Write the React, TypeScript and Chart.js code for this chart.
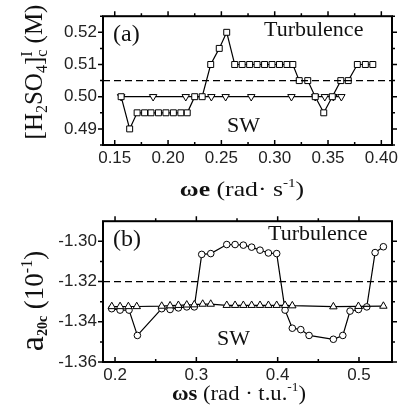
import React, { useEffect, useRef } from "react";
import { Chart, registerables } from "chart.js";

Chart.register(...registerables);

// ---------- Panel (a) data ----------
const aSquareX = [0.156, 0.164, 0.171, 0.178, 0.184, 0.191, 0.198, 0.205, 0.212, 0.218, 0.225, 0.232, 0.240, 0.248, 0.255, 0.2625, 0.2695, 0.2765, 0.2835, 0.2905, 0.2975, 0.3045, 0.3115, 0.317, 0.323, 0.331, 0.338, 0.346, 0.354, 0.362, 0.369, 0.3775, 0.385, 0.392];
const aSquareY = [0.50, 0.49, 0.495, 0.495, 0.495, 0.495, 0.495, 0.495, 0.495, 0.495, 0.50, 0.50, 0.51, 0.515, 0.52, 0.51, 0.51, 0.51, 0.51, 0.51, 0.51, 0.51, 0.51, 0.51, 0.505, 0.505, 0.50, 0.495, 0.50, 0.505, 0.505, 0.51, 0.51, 0.51];
const aTriX = [0.156, 0.186, 0.2166, 0.2406, 0.254, 0.278, 0.3157, 0.338, 0.347, 0.355, 0.3625];
const aTriY = [0.50, 0.50, 0.50, 0.50, 0.50, 0.50, 0.50, 0.50, 0.50, 0.50, 0.50];
const aThreshold = 0.505;
const aXRange = [0.139, 0.41];
const aYRange = [0.485, 0.525];
const aXTicks = [0.15, 0.175, 0.20, 0.225, 0.25, 0.275, 0.30, 0.325, 0.35, 0.375, 0.40];
const aXLabels = [0.15, 0.20, 0.25, 0.30, 0.35, 0.40];
const aYTicks = [0.485, 0.49, 0.495, 0.50, 0.505, 0.51, 0.515, 0.52, 0.525];
const aYLabels = [0.49, 0.50, 0.51, 0.52];

// ---------- Panel (b) data ----------
const bCircX = [0.1959, 0.2062, 0.2172, 0.2275, 0.2574, 0.2677, 0.2779, 0.2882, 0.2975, 0.3066, 0.3177, 0.3374, 0.3476, 0.3578, 0.368, 0.3783, 0.3886, 0.3988, 0.4091, 0.418, 0.4284, 0.4386, 0.4685, 0.4801, 0.489, 0.4993, 0.5096, 0.5198, 0.53];
const bCircY = [-1.3335, -1.3342, -1.3342, -1.3468, -1.3335, -1.3339, -1.3331, -1.3326, -1.3326, -1.3065, -1.3061, -1.3016, -1.3016, -1.3019, -1.3029, -1.3044, -1.3058, -1.3061, -1.3342, -1.3432, -1.3439, -1.3468, -1.3487, -1.3468, -1.3347, -1.3339, -1.3326, -1.3056, -1.3027];
const bTriX = [0.196, 0.2062, 0.2164, 0.2267, 0.2574, 0.2677, 0.2779, 0.2882, 0.2975, 0.3078, 0.3177, 0.3374, 0.3476, 0.3578, 0.368, 0.3783, 0.3886, 0.3988, 0.4091, 0.418, 0.4685, 0.4993, 0.53];
const bTriY = [-1.3324, -1.3324, -1.3324, -1.3324, -1.3322, -1.3320, -1.3318, -1.3316, -1.3315, -1.3312, -1.3312, -1.3318, -1.3318, -1.3318, -1.3318, -1.3318, -1.3318, -1.3318, -1.3318, -1.3320, -1.3325, -1.3323, -1.3322];
const bThreshold = -1.32;
const bXRange = [0.1852, 0.5406];
const bYRange = [-1.36, -1.29];
const bXTicks = [0.2, 0.25, 0.3, 0.35, 0.4, 0.45, 0.5];
const bXLabels = [0.2, 0.3, 0.4, 0.5];
const bYTicks = [-1.36, -1.35, -1.34, -1.33, -1.32, -1.31, -1.30];
const bYLabels = [-1.36, -1.34, -1.32, -1.30];

const SERIF = "'Liberation Serif', 'Times New Roman', serif";
const SANS = "'Liberation Sans', Arial, sans-serif";
const INK = "#111";

type Run = { t: string; font: string; dy?: number; adv?: boolean };

function drawRich(ctx: CanvasRenderingContext2D, runs: Run[], cx: number, cy: number, rotate: boolean, sx = 1) {
  ctx.save();
  ctx.translate(cx, cy);
  if (rotate) ctx.rotate(-Math.PI / 2);
  ctx.scale(sx, 1);
  ctx.fillStyle = INK;
  ctx.textBaseline = "alphabetic";
  ctx.textAlign = "left";
  let total = 0;
  const widths = runs.map((r) => {
    ctx.font = r.font;
    const w = ctx.measureText(r.t).width;
    if (r.adv !== false) total += w;
    return w;
  });
  let x = -total / 2;
  runs.forEach((r, i) => {
    ctx.font = r.font;
    ctx.fillText(r.t, x, r.dy || 0);
    if (r.adv !== false) x += widths[i];
  });
  ctx.restore();
}

function textAt(ctx: CanvasRenderingContext2D, t: string, font: string, x: number, y: number) {
  ctx.save();
  ctx.fillStyle = INK;
  ctx.font = font;
  ctx.textAlign = "left";
  ctx.textBaseline = "alphabetic";
  ctx.fillText(t, x, y);
  ctx.restore();
}

const near = (arr: number[], v: number) => arr.some((a) => Math.abs(a - v) < 1e-6);

function framePlugin(id: string, xLab: number[], yLab: number[], extra: (ctx: CanvasRenderingContext2D, chart: any) => void) {
  return {
    id,
    afterDraw(chart: any) {
      const ctx = chart.ctx as CanvasRenderingContext2D;
      const a = chart.chartArea;
      const xs = chart.scales.x;
      const ys = chart.scales.y;
      ctx.save();
      ctx.strokeStyle = "#000";
      ctx.lineWidth = 1.5;
      ctx.beginPath();
      xs.ticks.forEach((t: any) => {
        const px = xs.getPixelForValue(t.value);
        const len = near(xLab, t.value) ? 5 : 3;
        ctx.moveTo(px, a.bottom);
        ctx.lineTo(px, a.bottom - len);
        ctx.moveTo(px, a.top);
        ctx.lineTo(px, a.top - len);
      });
      ys.ticks.forEach((t: any) => {
        const py = ys.getPixelForValue(t.value);
        const len = near(yLab, t.value) ? 5 : 3;
        ctx.moveTo(a.left, py);
        ctx.lineTo(a.left - len, py);
        ctx.moveTo(a.right, py);
        ctx.lineTo(a.right + len, py);
      });
      ctx.stroke();
      ctx.lineWidth = 2;
      ctx.strokeRect(a.left, a.top, a.right - a.left, a.bottom - a.top);
      ctx.restore();
      extra(ctx, chart);
    },
  };
}

function makeScales(xr: number[], yr: number[], xt: number[], yt: number[], xFmt: (v: number) => string, yFmt: (v: number) => string, xH: number) {
  const tickFont = { family: SANS, size: 17 };
  return {
    x: {
      type: "linear",
      min: xr[0],
      max: xr[1],
      afterBuildTicks: (s: any) => { s.ticks = xt.map((v) => ({ value: v })); },
      afterFit: (s: any) => { s.height = xH; },
      grid: { display: false, drawTicks: false, drawOnChartArea: false },
      border: { display: false },
      ticks: { font: tickFont, color: "#222", padding: 3, maxRotation: 0, autoSkip: false, callback: (v: any) => xFmt(Number(v)) },
    },
    y: {
      type: "linear",
      min: yr[0],
      max: yr[1],
      afterBuildTicks: (s: any) => { s.ticks = yt.map((v) => ({ value: v })); },
      afterFit: (s: any) => { s.width = 103; },
      grid: { display: false, drawTicks: false, drawOnChartArea: false },
      border: { display: false },
      ticks: { font: tickFont, color: "#222", padding: 6, autoSkip: false, callback: (v: any) => yFmt(Number(v)) },
    },
  };
}

export default function App() {
  const topRef = useRef<HTMLCanvasElement | null>(null);
  const botRef = useRef<HTMLCanvasElement | null>(null);

  useEffect(() => {
    const lineStyle = { borderColor: "#000", borderWidth: 1.2, pointBorderColor: "#000", pointBackgroundColor: "#fff", pointBorderWidth: 1, showLine: true, tension: 0 };

    const topPlugin = framePlugin("topDecor", aXLabels, aYLabels, (ctx, chart) => {
      const a = chart.chartArea;
      textAt(ctx, "(a)", `24px ${SERIF}`, a.left + 10, a.top + 25);
      textAt(ctx, "Turbulence", `22px ${SERIF}`, 264, 36);
      textAt(ctx, "SW", `22px ${SERIF}`, 227, 132);
      const F = `22px ${SERIF}`;
      const FB = `bold 22px ${SERIF}`;
      drawRich(ctx, [
        { t: "ω", font: FB },
        { t: "e", font: FB },
        { t: " (rad· s", font: F },
        { t: "-1", font: `13px ${SERIF}`, dy: -9 },
        { t: ")", font: F },
      ], 242, 196, false, 1.17);
      const Y = `25px ${SERIF}`;
      const Ys = `16px ${SERIF}`;
      drawRich(ctx, [
        { t: "[H", font: Y },
        { t: "2", font: Ys, dy: 5 },
        { t: "SO", font: Y },
        { t: "4", font: Ys, dy: 5 },
        { t: "]", font: Y },
        { t: "I", font: Ys, dy: -10, adv: false },
        { t: "c", font: Ys, dy: 5 },
        { t: " (M)", font: Y },
      ], 42, 72, true);
    });

    const botPlugin = framePlugin("botDecor", bXLabels, bYLabels, (ctx, chart) => {
      const a = chart.chartArea;
      textAt(ctx, "(b)", `24px ${SERIF}`, a.left + 10, a.top + 25);
      textAt(ctx, "Turbulence", `22px ${SERIF}`, 268, 35);
      textAt(ctx, "SW", `22px ${SERIF}`, 217, 140);
      const F = `22px ${SERIF}`;
      const FB = `bold 22px ${SERIF}`;
      drawRich(ctx, [
        { t: "ω", font: FB },
        { t: "s", font: FB },
        { t: " (rad · t.u.", font: F },
        { t: "-1", font: `13px ${SERIF}`, dy: -9 },
        { t: ")", font: F },
      ], 239, 195, false, 1.03);
      drawRich(ctx, [
        { t: "a", font: `34px ${SERIF}` },
        { t: "20c", font: `bold 14px ${SERIF}`, dy: 4 },
        { t: " (10", font: `27px ${SERIF}` },
        { t: "-1", font: `16px ${SERIF}`, dy: -11 },
        { t: ")", font: `27px ${SERIF}` },
      ], 43, 96, true);
    });

    const topChart = new Chart(topRef.current as HTMLCanvasElement, {
      type: "line",
      data: {
        datasets: [
          { data: aXRange.map((x) => ({ x, y: aThreshold })), borderColor: "#000", borderWidth: 1.2, borderDash: [7, 4], pointRadius: 0, showLine: true },
          { data: aSquareX.map((x, i) => ({ x, y: aSquareY[i] })), ...lineStyle, pointStyle: "rect", pointRadius: 4.2 },
          { data: aTriX.map((x, i) => ({ x, y: aTriY[i] })), ...lineStyle, pointStyle: "triangle", pointRotation: 180, pointRadius: 4.3 },
        ],
      } as any,
      options: {
        animation: false,
        responsive: false,
        events: [],
        layout: { padding: { left: 0, right: 13, top: 4, bottom: 0 } },
        plugins: { legend: { display: false }, tooltip: { enabled: false } },
        scales: makeScales(aXRange, aYRange, aXTicks, aYTicks, (v) => (near(aXLabels, v) ? v.toFixed(2) : ""), (v) => (near(aYLabels, v) ? v.toFixed(2) : ""), 60) as any,
      },
      plugins: [topPlugin],
    });

    const botChart = new Chart(botRef.current as HTMLCanvasElement, {
      type: "line",
      data: {
        datasets: [
          { data: bXRange.map((x) => ({ x, y: bThreshold })), borderColor: "#000", borderWidth: 1.2, borderDash: [7, 4], pointRadius: 0, showLine: true },
          { data: bTriX.map((x, i) => ({ x, y: bTriY[i] })), ...lineStyle, pointStyle: "triangle", pointRadius: 4.3 },
          { data: bCircX.map((x, i) => ({ x, y: bCircY[i] })), ...lineStyle, pointStyle: "circle", pointRadius: 3.3 },
        ],
      } as any,
      options: {
        animation: false,
        responsive: false,
        events: [],
        layout: { padding: { left: 0, right: 13, top: 12, bottom: 0 } },
        plugins: { legend: { display: false }, tooltip: { enabled: false } },
        scales: makeScales(bXRange, bYRange, bXTicks, bYTicks, (v) => (near(bXLabels, v) ? v.toFixed(1) : ""), (v) => (near(bYLabels, v) ? v.toFixed(2) : ""), 48) as any,
      },
      plugins: [botPlugin],
    });

    return () => {
      topChart.destroy();
      botChart.destroy();
    };
  }, []);

  return (
    <div style={{ position: "fixed", left: 0, top: 0, width: 405, height: 410, background: "#fff" }}>
      <canvas ref={topRef} width={405} height={205} style={{ position: "absolute", left: 0, top: 0, width: 405, height: 205 }} />
      <canvas ref={botRef} width={405} height={205} style={{ position: "absolute", left: 0, top: 205, width: 405, height: 205 }} />
    </div>
  );
}
